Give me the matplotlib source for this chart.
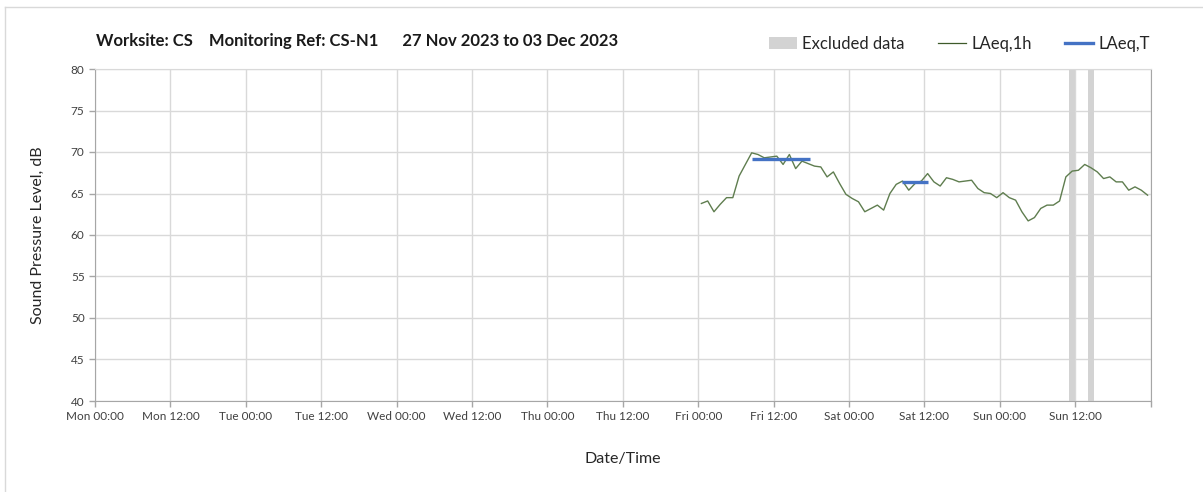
import numpy as np
import pandas as pd
import matplotlib
matplotlib.use("Agg")
import matplotlib.pyplot as plt
import matplotlib.dates as mdates
from matplotlib.lines import Line2D
from matplotlib.patches import Patch

plt.rcParams['font.family'] = ['Lato', 'DejaVu Sans']

# --- datos ---
inicio = "2023-11-27 00:00"
fin = "2023-12-04 00:00"
primera_hora = "2023-12-01 00:30"

# LAeq,1h (dB), una muestra por hora desde Fri 00:30
laeq_1h = [63.8, 64.1, 62.8, 63.7, 64.5, 64.5, 67.1, 68.5, 69.9, 69.7,
           69.3, 69.4, 69.5, 68.5, 69.7, 68.0, 68.9, 68.6, 68.3, 68.2,
           67.0, 67.6, 66.2, 64.9, 64.4, 64.0, 62.8, 63.2, 63.6, 63.0,
           65.0, 66.1, 66.5, 65.4, 66.2, 66.5, 67.4, 66.4, 65.9, 66.9,
           66.7, 66.4, 66.5, 66.6, 65.6, 65.1, 65.0, 64.5, 65.1, 64.5,
           64.2, 62.8, 61.7, 62.1, 63.2, 63.6, 63.6, 64.1, 67.0, 67.7,
           67.8, 68.5, 68.1, 67.6, 66.8, 67.0, 66.4, 66.4, 65.4, 65.8,
           65.4, 64.8]

# LAeq,T: inicio, fin, nivel
laeq_t_inicio = ["2023-12-01 08:30", "2023-12-02 08:30"]
laeq_t_fin = ["2023-12-01 17:45", "2023-12-02 12:30"]
laeq_t_nivel = [69.2, 66.4]

# periodos excluidos
excl_inicio = ["2023-12-03 11:00", "2023-12-03 14:00"]
excl_fin = ["2023-12-03 12:00", "2023-12-03 15:00"]

titulo = "Worksite: CS    Monitoring Ref: CS-N1      27 Nov 2023 to 03 Dec 2023"

VERDE = "#5f7d4f"
AZUL = "#4472c4"
GRIS = "#d3d3d3"

tiempos = pd.date_range(primera_hora, periods=len(laeq_1h), freq="h")

fig = plt.figure(figsize=(12.03, 4.92), dpi=100)
ax = fig.add_axes([95 / 1203, 1 - 401 / 492, 1055.7 / 1203, 332 / 492])

for a, b in zip(excl_inicio, excl_fin):
    ax.axvspan(pd.Timestamp(a), pd.Timestamp(b), color=GRIS, lw=0, zorder=1)

ax.plot(tiempos, laeq_1h, color=VERDE, linewidth=1.0, zorder=3)

for a, b, v in zip(laeq_t_inicio, laeq_t_fin, laeq_t_nivel):
    ax.plot([pd.Timestamp(a), pd.Timestamp(b)], [v, v], color=AZUL,
            linewidth=2.4, solid_capstyle='butt', zorder=4)

ax.set_xlim(pd.Timestamp(inicio), pd.Timestamp(fin))
ax.set_ylim(40, 80)
ax.set_yticks(np.arange(40, 81, 5))
ax.xaxis.set_major_locator(mdates.HourLocator(byhour=[0, 12]))
ax.xaxis.set_major_formatter(mdates.DateFormatter("%a %H:%M"))

ax.grid(True, color="#d9d9d9", linewidth=1.0, zorder=0)
ax.set_axisbelow(True)
for lado in ["left", "bottom", "right"]:
    ax.spines[lado].set_color("#a6a6a6")
ax.spines["top"].set_color("#d9d9d9")
ax.tick_params(axis="both", colors="#a6a6a6", labelcolor="#404040",
               labelsize=8.5, length=4, width=1)
# quitar la ultima etiqueta (Mon 00:00 del final)
etiquetas = ax.get_xticklabels()
ax.set_xticks(ax.get_xticks())
ax.set_xticklabels([t.get_text() for t in etiquetas[:-1]] + [""])

ax.set_ylabel("Sound Pressure Level, dB", fontsize=11.5, color="#262626")
ax.yaxis.set_label_coords(-50 / 1055.7, 0.5)
ax.set_xlabel("Date/Time", fontsize=11.5, color="#262626")
ax.xaxis.set_label_coords(0.5, -0.155)

fig.text(96 / 1203, 1 - 41 / 492, titulo, fontsize=12, fontweight="bold",
         va="center", ha="left", color="#1a1a1a")

manejadores = [Patch(facecolor=GRIS, edgecolor="none"),
               Line2D([], [], color="#3e5a2a", linewidth=0.9),
               Line2D([], [], color=AZUL, linewidth=2.4)]
fig.legend(manejadores, ["Excluded data", "LAeq,1h", "LAeq,T"],
           loc="center right", bbox_to_anchor=(1165 / 1203, 1 - 44 / 492),
           ncol=3, frameon=False, fontsize=12, handlelength=1.7,
           handletextpad=0.3, columnspacing=2.0, labelcolor="#262626")

# borde de la figura
fig.add_artist(Line2D([5 / 1203, 1], [1 - 7 / 492] * 2, color="#d9d9d9",
                      linewidth=1, transform=fig.transFigure))
fig.add_artist(Line2D([5 / 1203] * 2, [0, 1 - 7 / 492], color="#d9d9d9",
                      linewidth=1, transform=fig.transFigure))

fig.savefig("out.png", dpi=100)
